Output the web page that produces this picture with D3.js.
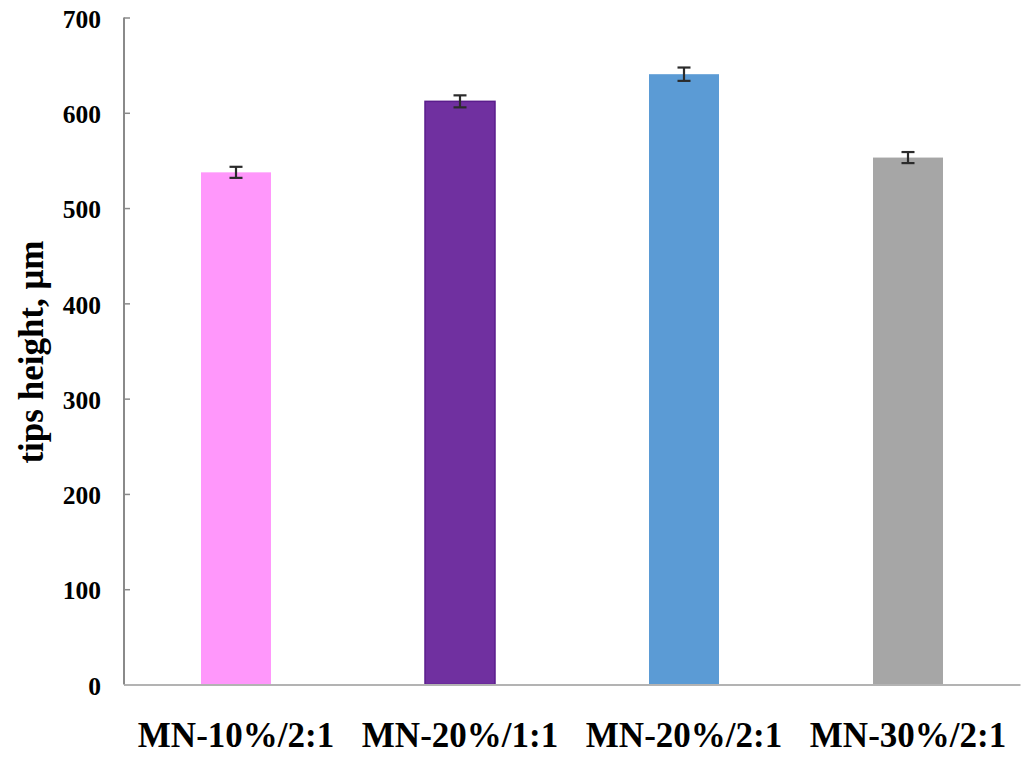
<!DOCTYPE html>
<html>
<head>
<meta charset="utf-8">
<script src="https://cdn.jsdelivr.net/npm/d3@7"></script>
<style>
  body { margin: 0; background: #fff; }
  svg text { font-family: "Liberation Serif", "Times New Roman", serif; font-weight: bold; fill: #000; }
</style>
</head>
<body>
<div id="chart"></div>
<script>
(function () {

  // Data
  const categories = ["MN-10%/2:1", "MN-20%/1:1", "MN-20%/2:1", "MN-30%/2:1"]
  const heights = [537.5, 612, 640.5, 553]
  const errors = [5.8, 6.3, 7, 5.8]
  const barColors = ["#ff97fb", "#7030a0", "#5b9bd5", "#a6a6a6"]
  const yTicks = [0, 100, 200, 300, 400, 500, 600, 700]

  const width = 1035
  const height = 758
  const margin = { top: 17.5, right: 15, bottom: 73.5, left: 124 }

  const svg = d3.select("#chart").append("svg")
      .attr("width", width)
      .attr("height", height)

  const x = d3.scaleBand()
    .domain(categories)
    .range([margin.left, width - margin.right])
    .paddingInner(0.6875)
    .paddingOuter(0.34375)

  const y = d3.scaleLinear()
    .domain([0, 700])
    .range([height - margin.bottom, margin.top])

  // Bars
  svg.selectAll('rect.bar')
    .data(heights)
    .join('rect')
    .attr('class', 'bar')
    .attr('x', (d, i) => x(categories[i]))
    .attr('width', x.bandwidth())
    .attr('y', d => y(d))
    .attr('height', d => y(0) - y(d))
    .attr('fill', (d, i) => barColors[i])
    .attr('stroke', (d, i) => i === 1 ? "#5a1d8c" : "none")
    .attr('stroke-width', 1.5)

  // Error bars
  const err = svg.selectAll('g.err')
    .data(heights)
    .join('g')
    .attr('class', 'err')
    .attr('stroke', '#2b2b2b')
    .attr('stroke-width', 2.2)

  err.append('line')
    .attr('x1', (d, i) => x(categories[i]) + x.bandwidth() / 2)
    .attr('x2', (d, i) => x(categories[i]) + x.bandwidth() / 2)
    .attr('y1', (d, i) => y(d + errors[i]))
    .attr('y2', (d, i) => y(d - errors[i]))

  err.selectAll('line.cap')
    .data((d, i) => [{ v: d + errors[i], i }, { v: d - errors[i], i }])
    .join('line')
    .attr('class', 'cap')
    .attr('x1', d => x(categories[d.i]) + x.bandwidth() / 2 - 6.5)
    .attr('x2', d => x(categories[d.i]) + x.bandwidth() / 2 + 6.5)
    .attr('y1', d => y(d.v))
    .attr('y2', d => y(d.v))

  // Y axis
  const yAxis = svg.append('g')
    .attr('transform', `translate(${margin.left},0)`)
    .call(d3.axisLeft(y).tickValues(yTicks).tickSize(-6).tickPadding(23))

  yAxis.select('.domain')
    .attr('stroke', '#8a8a8a')
    .attr('stroke-width', 2)
    .attr('d', `M0,${y(700)}V${y(0)}`)
  yAxis.selectAll('.tick line').attr('stroke', '#8a8a8a').attr('stroke-width', 1.5)
  yAxis.selectAll('.tick text')
    .attr('font-size', 25.5)
    .attr('font-family', '"Liberation Serif", serif')
    .attr('font-weight', 'bold')
    .attr('fill', '#000')
    .attr('dy', '0.38em')

  // X axis
  const xAxis = svg.append('g')
    .attr('transform', `translate(0,${y(0)})`)
    .call(d3.axisBottom(x).tickSize(0).tickPadding(38))

  xAxis.select('.domain')
    .attr('stroke', '#b3b3b3')
    .attr('stroke-width', 2)
  xAxis.selectAll('.tick text')
    .attr('font-size', 35)
    .attr('font-family', '"Liberation Serif", serif')
    .attr('font-weight', 'bold')
    .attr('fill', '#000')

  // Y label
  svg.append('text')
    .attr('transform', `translate(43,${352}) rotate(-90)`)
    .attr('text-anchor', 'middle')
    .attr('font-size', 35)
    .text('tips height, μm')

})();
</script>
</body>
</html>
